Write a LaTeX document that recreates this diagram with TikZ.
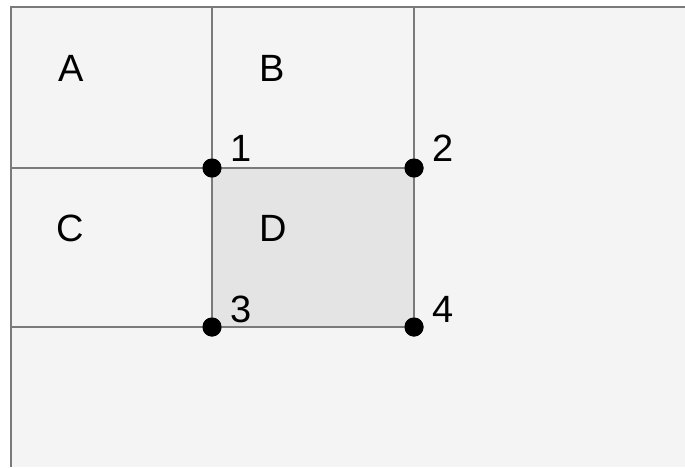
\documentclass[tikz,border=0pt]{standalone}
\usepackage{fontspec}
\setmainfont{Liberation Sans}
\usetikzlibrary{positioning}
\definecolor{paper}{HTML}{F4F4F4}
\definecolor{cellD}{HTML}{E4E4E4}
\definecolor{rule}{HTML}{7A7A7A}

\begin{document}
\begin{tikzpicture}[x=1pt,y=-1pt,
	gridline/.style={draw=rule, line width=1.8pt},
	corner/.style={circle, fill=black, inner sep=0pt, minimum size=19pt},
	lbl/.style={font=\fontsize{38}{40}\selectfont, inner sep=0pt}]
	\useasboundingbox (0,0) rectangle (685,467);
	\fill[white] (0,0) rectangle (685,467);
	\fill[paper] (11,7) rectangle (685,467);
	
	% the shaded cell D
	\fill[cellD] (212,168) rectangle (414,327);
	
	% ends of the grid lines
	\coordinate (topL) at (11,7);
	\coordinate (topR) at (685,7);
	\coordinate (botL) at (11,467);
	\coordinate (top1) at (212,7);
	\coordinate (top2) at (414,7);
	\coordinate (mid) at (11,168);
	\coordinate (low) at (11,327);
	
	\node[corner] (p1) at (212,168) {};
	\node[corner] (p2) at (414,168) {};
	\node[corner] (p3) at (212,327) {};
	\node[corner] (p4) at (414,327) {};
	
	\draw[gridline] (topR) -- (topL) -- (botL);
	\draw[gridline] (top1) -- (p1.center) -- (p3.center);
	\draw[gridline] (top2) -- (p2.center) -- (p4.center);
	\draw[gridline] (mid) -- (p1.center) -- (p2.center);
	\draw[gridline] (low) -- (p3.center) -- (p4.center);
	
	% redraw the dots over the lines
	\foreach \p in {p1,p2,p3,p4}
		\fill[black] (\p) circle (9.5pt);
	
	\node[lbl] (A) at (71,68) {A};
	\node[lbl] (B) at (272,68) {B};
	\node[lbl] (C) at (70,228) {C};
	\node[lbl] (D) at (273,228) {D};
	
	\node[lbl] (n1) at (241,148) {1};
	\node[lbl] (n2) at (443,148) {2};
	\node[lbl] (n3) at (241,309) {3};
	\node[lbl] (n4) at (443,309) {4};
\end{tikzpicture}
\end{document}
